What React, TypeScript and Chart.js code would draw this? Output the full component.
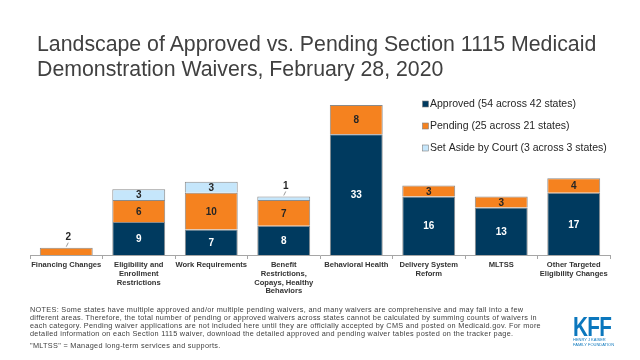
import React, { useEffect, useRef } from "react";
import { Chart, registerables } from "chart.js";

Chart.register(...registerables);

const categories: (string | string[])[] = [
  "Financing Changes",
  ["Eligibility and", "Enrollment", "Restrictions"],
  "Work Requirements",
  ["Benefit", "Restrictions,", "Copays, Healthy", "Behaviors"],
  "Behavioral Health",
  ["Delivery System", "Reform"],
  "MLTSS",
  ["Other Targeted", "Eligibility Changes"],
];
const approved = [0, 9, 7, 8, 33, 16, 13, 17];
const pending = [2, 6, 10, 7, 8, 3, 3, 4];
const setAside = [0, 3, 3, 1, 0, 0, 0, 0];
const seriesNames = [
  "Approved (54 across 42 states)",
  "Pending (25 across 21 states)",
  "Set Aside by Court (3 across 3 states)",
];
const noteLines = [
  "NOTES: Some states have multiple approved and/or multiple pending waivers, and many waivers are comprehensive and may fall into a few",
  "different areas. Therefore, the total number of pending or approved waivers across states cannot be calculated by summing counts of waivers in",
  "each category. Pending waiver applications are not included here until they are officially accepted by CMS and posted on Medicaid.gov. For more",
  "detailed information on each Section 1115 waiver, download the detailed approved and pending waiver tables posted on the tracker page.",
];
const footLine = '"MLTSS" = Managed long-term services and supports.';

const FONT = '"Liberation Sans", Arial, Helvetica, sans-serif';
const NAVY = "#003a5f";
const ORANGE = "#f5821f";
const LIGHT = "#c5e6fb";

const labelPlugin = {
  id: "segLabels",
  afterDatasetsDraw(chart: any) {
    const ctx = chart.ctx;
    ctx.save();
    ctx.font = `bold 10px ${FONT}`;
    ctx.textAlign = "center";
    ctx.textBaseline = "middle";
    chart.data.datasets.forEach((ds: any, di: number) => {
      const meta = chart.getDatasetMeta(di);
      meta.data.forEach((bar: any, i: number) => {
        const v = ds.data[i];
        if (!v) return;
        const h = Math.abs(bar.base - bar.y);
        ctx.fillStyle = di === 0 ? "#ffffff" : "#262626";
        if (h < 10) {
          const lx = bar.x + 2;
          const ly = bar.y - 10;
          ctx.fillText(String(v), lx, ly);
          ctx.strokeStyle = "#7f7f7f";
          ctx.lineWidth = 0.8;
          ctx.beginPath();
          ctx.moveTo(lx, ly + 5);
          ctx.lineTo(bar.x, bar.y - 1);
          ctx.stroke();
        } else {
          ctx.fillText(String(v), bar.x, (bar.y + bar.base) / 2 + 1);
        }
      });
    });
    const colors = [NAVY, ORANGE, LIGHT];
    ctx.font = `10.5px ${FONT}`;
    ctx.textAlign = "left";
    const ys = [104, 126, 148];
    seriesNames.forEach((n, i) => {
      ctx.fillStyle = colors[i];
      ctx.fillRect(422.5, ys[i] - 3, 6, 6);
      ctx.strokeStyle = "#7f7f7f";
      ctx.lineWidth = 0.6;
      ctx.strokeRect(422.5, ys[i] - 3, 6, 6);
      ctx.fillStyle = "#262626";
      ctx.fillText(n, 430, ys[i] + 0.5);
    });
    ctx.restore();
  },
};

export default function App() {
  const ref = useRef<HTMLCanvasElement | null>(null);
  useEffect(() => {
    if (!ref.current) return;
    const mk = (label: string, data: number[], color: string) => ({
      label,
      data,
      backgroundColor: color,
      borderColor: "#8a8a8a",
      borderWidth: 1,
      borderSkipped: "bottom" as const,
      barPercentage: 0.73,
      categoryPercentage: 1,
    });
    const chart = new Chart(ref.current, {
      type: "bar",
      data: {
        labels: categories,
        datasets: [
          mk(seriesNames[0], approved, NAVY),
          mk(seriesNames[1], pending, ORANGE),
          mk(seriesNames[2], setAside, LIGHT),
        ],
      },
      options: {
        animation: false,
        responsive: false,
        maintainAspectRatio: false,
        layout: { padding: { left: 30, right: 30, top: 105, bottom: 0 } },
        plugins: { legend: { display: false }, tooltip: { enabled: false } },
        scales: {
          x: {
            stacked: true,
            offset: true,
            grid: {
              offset: true,
              drawOnChartArea: false,
              drawTicks: true,
              tickLength: 4,
              color: "#a6a6a6",
            },
            border: { display: true, color: "#a6a6a6", width: 1 },
            ticks: {
              autoSkip: false,
              maxRotation: 0,
              padding: 1,
              color: "#333333",
              font: { family: FONT, size: 7.6, weight: "bold", lineHeight: 1.18 },
            },
            afterFit: (s: any) => {
              s.height = 105;
            },
          },
          y: {
            stacked: true,
            display: false,
            min: 0,
            max: 41,
          },
        },
      },
      plugins: [labelPlugin],
    });
    return () => chart.destroy();
  }, []);

  return (
    <div
      style={{
        position: "fixed",
        left: 0,
        top: 0,
        width: 640,
        height: 360,
        background: "#fff",
        fontFamily: FONT,
        overflow: "hidden",
      }}
    >
      <canvas ref={ref} width={640} height={360} style={{ position: "absolute", left: 0, top: 0 }} />
      <div
        style={{
          position: "absolute",
          left: 37,
          top: 32,
          fontSize: 21.3,
          lineHeight: "25px",
          color: "#404040",
          whiteSpace: "nowrap",
        }}
      >
        Landscape of Approved vs. Pending Section 1115 Medicaid
        <br />
        Demonstration Waivers, February 28, 2020
      </div>
      <div
        style={{
          position: "absolute",
          left: 30,
          top: 306,
          fontSize: 7.3,
          letterSpacing: 0.3,
          lineHeight: "8px",
          color: "#404040",
          whiteSpace: "nowrap",
        }}
      >
        {noteLines.map((l, i) => (
          <div key={i}>{l}</div>
        ))}
        <div style={{ marginTop: 4 }}>{footLine}</div>
      </div>
      <div style={{ position: "absolute", left: 573, top: 314, width: 42, color: "#0b77bd" }}>
        <div
          style={{
            fontSize: 28,
            fontWeight: "bold",
            lineHeight: "26px",
            transform: "scaleX(0.74)",
            transformOrigin: "left top",
            whiteSpace: "nowrap",
            letterSpacing: -1,
          }}
        >
          KFF
        </div>
        <div style={{ fontSize: 4, lineHeight: "4.5px", whiteSpace: "nowrap", marginTop: -2 }}>
          HENRY J KAISER
          <br />
          FAMILY FOUNDATION
        </div>
      </div>
    </div>
  );
}
